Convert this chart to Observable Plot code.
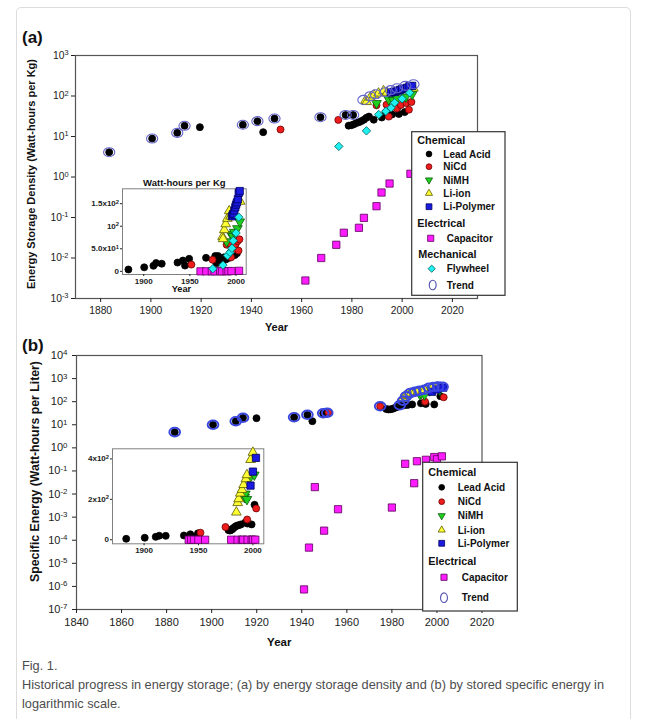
<!DOCTYPE html>
<html><head><meta charset="utf-8">
<script src="https://cdn.jsdelivr.net/npm/d3@7"></script>
<script src="https://cdn.jsdelivr.net/npm/@observablehq/plot@0.6"></script>
<style>
html,body{margin:0;padding:0;background:#fff;}
#page{position:relative;width:647px;height:719px;overflow:hidden;font-family:'Liberation Sans',Arial,Helvetica,sans-serif;}
#frameBox{position:absolute;left:16px;top:7px;width:615px;height:760px;border:1px solid #dcdcdc;border-radius:5px;box-sizing:border-box;}
#cap{position:absolute;left:22px;top:656px;color:#4d4d4d;font-size:13px;line-height:19px;white-space:nowrap;}
#cap span{display:inline-block;transform-origin:0 50%;}
</style></head>
<body><div id="page"><div id="frameBox"></div>
<div id="cap"><div><span>Fig. 1.</span></div><div><span id="capLine">Historical progress in energy storage; (a) by energy storage density and (b) by stored specific energy in</span></div><div><span>logarithmic scale.</span></div></div>
</div>
<script>
// ---------------- DATA: panel (a) Wh per kg ----------------
const leadAcidA = [[1883.4,4.1],[1900.5,8.9],[1910.5,12.3],[1913.4,18.4],[1919.5,17],[1936.6,19.5],[1942.4,23.9],[1944.7,12.8],[1949.2,27.8],[1967.5,30],[1977.5,34],[1980.5,34],[1978.7,18.5],[1979.8,19],[1980.8,20],[1981.8,21.5],[1982.8,22.5],[1983.8,24],[1984.8,26],[1985.8,29],[1986.8,31],[1988.7,26],[1991.9,29.5],[1993.4,39],[1994.7,44],[1996,35],[1998,51],[1998.7,36],[2001,40]];
const nicdA = [[1951.6,14.9],[1974.6,25.7],[1989.8,59],[1993.8,61],[1994.7,31],[1997.9,49],[1999.5,60],[2001.7,67],[2002.7,46],[2003.7,71]];
const nimhA = [[1989.8,66],[1994.7,82],[1996.5,78],[1998,87],[2001.5,95],[2004,110]];
const liIonA = [[1985.4,77],[1985.9,72],[1987.3,92],[1988.8,105],[1990.6,117],[1992.6,134],[1994,122],[2004.5,155]];
const liPolyA = [[1995.5,122],[1996.5,126],[1997.3,128],[1998.2,135],[1999.2,142],[2000,148],[2001,153],[2002,160],[2002.9,174],[2004,178]];
const capacitorA = [[1961.5,0.00278],[1967.8,0.01],[1973.8,0.0212],[1976.8,0.042],[1982.8,0.0557],[1984.8,0.098],[1989.8,0.19],[1991.8,0.414],[1995,0.69],[2003.3,1.2]];
const flywheelA = [[1974.8,5.7],[1985.8,13.8],[1990.7,35],[1993.5,42],[1995.6,51],[1997,68],[2000,85],[2003,120]];
const trendA = [[1883.4,4.1],[1900.5,8.9],[1910.5,12.3],[1913.4,18.4],[1936.6,19.5],[1942.4,23.9],[1949.2,27.8],[1967.5,30],[1977.5,34],[1980.5,34],[1984.6,80],[1987.3,99],[1989.5,110],[1993.4,124],[1995.5,140],[1998,155],[2001.3,178],[2004.5,195]];

// ---------------- DATA: panel (b) Wh per liter ----------------
const leadAcidB = [[1883.6,4.8],[1900.6,10],[1910.7,14.3],[1913.9,20],[1919.9,19.3],[1936.6,21.3],[1942.5,27],[1944.7,14.3],[1949.5,31.6],[1977.5,48],[1978.5,46],[1979.5,47],[1980.5,50],[1981.5,55],[1982.5,60],[1984,66],[1985.5,70],[1987,72],[1989,76],[1992.9,85],[1995,80],[1998.8,76],[2001.5,173]];
const nicdB = [[1951.8,35],[1974.8,63],[1994.7,100],[2003,155]];
const nimhB = [[1992.4,210],[1993,227],[1994.5,200],[1996.7,301],[2001.3,321]];
const liIonB = [[1984.8,136],[1986,183],[1986.9,202],[1988.4,230],[1990,248],[1991.5,272],[1993.6,301],[1994.5,321],[1997.9,396],[2000,432]];
const liPolyB = [[1997.8,268],[2000,337],[2002.8,405]];
const capacitorB = [[1941,7.4e-7],[1943.2,4.8e-5],[1945.8,0.02],[1949.9,2.6e-4],[1956.1,2.2e-3],[1980,2.6e-3],[1985.9,0.204],[1989.9,0.0295],[1991.1,0.264],[1995.1,0.304],[1998.8,0.40],[2000,0.32],[2002.2,0.43]];
const trendB = [[1883.6,4.8],[1900.6,10],[1910.7,14.3],[1913.9,20],[1936.6,21.3],[1942.5,27],[1949.5,31.6],[1951.3,33],[1974.8,63],[1983.5,70],[1985,110],[1986.3,170],[1988.3,240],[1990.3,270],[1992.3,300],[1994.5,330],[1996.5,400],[1998.5,430],[2000.5,450],[2002.5,440]];

// ---------------- TICKS & LABELS ----------------
const xTicksA = [1880,1900,1920,1940,1960,1980,2000,2020];
const yTicksA = [1e-3,1e-2,1e-1,1e0,1e1,1e2,1e3];
const xTicksB = [1840,1860,1880,1900,1920,1940,1960,1980,2000,2020];
const yTicksB = [1e-7,1e-6,1e-5,1e-4,1e-3,1e-2,1e-1,1e0,1e1,1e2,1e3,1e4];
const insetXTicks = [1900,1950,2000];
const insetYTicksA = [0,50,100,150];
const insetYLabelsA = ["0","5.0x10^1","10^2","1.5x10^2"];
const insetYTicksB = [0,200,400];
const insetYLabelsB = ["0","2x10^2","4x10^2"];
const titleA = "Energy Storage Density (Watt-hours per Kg)";
const titleB = "Specific Energy (Watt-hours per Liter)";
const insetTitleA = "Watt-hours per Kg";
const legendA = [["h","Chemical"],["lead","Lead Acid"],["nicd","NiCd"],["nimh","NiMH"],["liion","Li-ion"],["lipo","Li-Polymer"],["h","Electrical"],["cap","Capacitor"],["h","Mechanical"],["fly","Flywheel"],["trend","Trend"]];
const legendB = [["h","Chemical"],["lead","Lead Acid"],["nicd","NiCd"],["nimh","NiMH"],["liion","Li-ion"],["lipo","Li-Polymer"],["h","Electrical"],["cap","Capacitor"],["trend","Trend"]];

// ---------------- STYLES ----------------
const FONT = "'Liberation Sans', Arial, Helvetica, sans-serif";
const triDown = {draw(ctx, size){ const y = Math.sqrt(size/(Math.sqrt(3)*3)); ctx.moveTo(0, 2*y); ctx.lineTo(Math.sqrt(3)*y, -y); ctx.lineTo(-Math.sqrt(3)*y, -y); ctx.closePath(); }};
function ellipseSym(ax, ay){ return {draw(ctx,size){ const r=Math.sqrt(size/Math.PI), rx=r*ax, ry=r*ay, k=0.5523; ctx.moveTo(rx,0); ctx.bezierCurveTo(rx,k*ry,k*rx,ry,0,ry); ctx.bezierCurveTo(-k*rx,ry,-rx,k*ry,-rx,0); ctx.bezierCurveTo(-rx,-k*ry,-k*rx,-ry,0,-ry); ctx.bezierCurveTo(k*rx,-ry,rx,-k*ry,rx,0); ctx.closePath(); }}; }
const ST = {
  lead:  {symbol:"circle",  fill:"#000000", stroke:"#000000", r:3.5},
  nicd:  {symbol:"circle",  fill:"#ee1c1c", stroke:"#6a0000", r:3.5},
  nimh:  {symbol:triDown,   fill:"#1fd01f", stroke:"#0a5a0a", r:3.6},
  liion: {symbol:"triangle",fill:"#ffff33", stroke:"#5a5a00", r:3.6},
  lipo:  {symbol:"square",  fill:"#1a1ae0", stroke:"#000060", r:4.1},
  cap:   {symbol:"square",  fill:"#ff1cff", stroke:"#5a005a", r:4.1},
  fly:   {symbol:"diamond2",fill:"#1ff0f0", stroke:"#006060", r:3.8},
};
const trendStyleA = {symbol: ellipseSym(1.12,0.9), fill:"none", stroke:"#6464cc", strokeWidth:1.1, r:5};
const trendStyleB = {symbol: ellipseSym(1.12,0.9), fill:"none", stroke:"#3a46e0", strokeWidth:1.9, r:4.8};

function dots(data, st){ return Plot.dot(data, {x: d => d[0], y: d => d[1], symbol: st.symbol, fill: st.fill, stroke: st.stroke, strokeWidth: st.strokeWidth ?? 0.8, r: st.r}); }
const sup10 = d => "10^" + Math.round(Math.log10(d));
const SVGNS = "http://www.w3.org/2000/svg";
function supify(svg){
  svg.querySelectorAll("text").forEach(t => {
    const s = t.textContent;
    if (!s.includes("^")) return;
    const [base, exp] = s.split("^");
    while (t.firstChild) t.removeChild(t.firstChild);
    const a = document.createElementNS(SVGNS,"tspan"); a.textContent = base;
    const b = document.createElementNS(SVGNS,"tspan"); b.textContent = exp; b.setAttribute("dy","-0.45em"); b.setAttribute("font-size","72%");
    t.append(a,b);
  });
}
const page = document.getElementById("page");
function place(svg, left, top){ svg.style.position="absolute"; svg.style.left=left+"px"; svg.style.top=top+"px"; supify(svg); page.appendChild(svg); }
const baseStyle = {background:"transparent", fontFamily: FONT, color:"#222", overflow:"visible"};

// ---------------- PANEL (a) ----------------
const plotA = Plot.plot({
  width: 647, height: 340, marginLeft: 75, marginRight: 170, marginTop: 55, marginBottom: 42,
  x: {domain:[1870,2030]}, y: {type:"log", domain:[1e-3,1e3]},
  style: baseStyle,
  marks: [
    Plot.frame({stroke:"#555", strokeWidth:1.2}),
    Plot.axisX({ticks:xTicksA, tickFormat:d=>String(d), tickSize:4, tickPadding:4, fontSize:10.3, label:null}),
    Plot.axisY({ticks:yTicksA, tickFormat:sup10, tickSize:4, tickPadding:3, fontSize:10.3, label:null}),
    dots(leadAcidA, ST.lead), dots(nicdA, ST.nicd), dots(nimhA, ST.nimh), dots(liIonA, ST.liion), dots(liPolyA, ST.lipo), dots(capacitorA, ST.cap), dots(flywheelA, ST.fly),
    dots(trendA, trendStyleA),
    Plot.text(["Year"], {text:d=>d, frameAnchor:"bottom", dy:32, fontWeight:"bold", fontSize:11, fill:"#111"})
  ]
});
place(plotA, 0, 0);

const insetA = Plot.plot({
  width: 175, height: 132, marginLeft: 42, marginRight: 9.3, marginTop: 20.3, marginBottom: 26,
  x: {domain:[1877,2011]}, y: {domain:[-7,183]},
  style: {...baseStyle, fontWeight:"bold"},
  marks: [
    Plot.frame({fill:"white", stroke:"#808080"}),
    Plot.axisX({ticks:insetXTicks, tickFormat:d=>String(d), tickSize:2, tickPadding:1.5, fontSize:8, label:null}),
    Plot.axisY({ticks:insetYTicksA, tickFormat:d=>insetYLabelsA[insetYTicksA.indexOf(d)], tickSize:2, tickPadding:1.5, fontSize:8, label:null}),
    dots(leadAcidA, ST.lead), dots(nicdA, ST.nicd), dots(nimhA, ST.nimh), dots(liIonA, ST.liion), dots(liPolyA, ST.lipo), dots(capacitorA, ST.cap), dots(flywheelA, ST.fly),
    Plot.text([insetTitleA], {text:d=>d, frameAnchor:"top", dy:-10, fontSize:9.5, fill:"#111"}),
    Plot.text(["Year"], {text:d=>d, frameAnchor:"bottom", dy:17.7, dx:-3, fontSize:9.2, fill:"#111"})
  ]
});
place(insetA, 80, 168);

// ---------------- PANEL (b) ----------------
const plotB = Plot.plot({
  width: 647, height: 315, marginLeft: 76, marginRight: 165.5, marginTop: 15, marginBottom: 46,
  x: {domain:[1840,2020]}, y: {type:"log", domain:[1e-7,1e4]},
  style: baseStyle,
  marks: [
    Plot.frame({stroke:"#555", strokeWidth:1.2}),
    Plot.axisX({ticks:xTicksB, tickFormat:d=>String(d), tickSize:4, tickPadding:5, fontSize:11, label:null}),
    Plot.axisY({ticks:yTicksB, tickFormat:sup10, tickSize:4, tickPadding:5, fontSize:11, label:null}),
    dots(leadAcidB, ST.lead), dots(nicdB, ST.nicd), dots(nimhB, ST.nimh), dots(liIonB, ST.liion), dots(liPolyB, ST.lipo), dots(capacitorB, ST.cap),
    dots(trendB, trendStyleB),
    Plot.text(["Year"], {text:d=>d, frameAnchor:"bottom", dy:36, fontWeight:"bold", fontSize:11.5, fill:"#111"})
  ]
});
place(plotB, 0, 340);

const insetB = Plot.plot({
  width: 210, height: 120, marginLeft: 52, marginRight: 6.7, marginTop: 8.3, marginBottom: 16.7,
  x: {domain:[1871,2010]}, y: {domain:[-20,450]},
  style: {...baseStyle, fontWeight:"bold"},
  marks: [
    Plot.frame({fill:"white", stroke:"#808080"}),
    Plot.axisX({ticks:insetXTicks, tickFormat:d=>String(d), tickSize:2, tickPadding:1.5, fontSize:8, label:null}),
    Plot.axisY({ticks:insetYTicksB, tickFormat:d=>insetYLabelsB[insetYTicksB.indexOf(d)], tickSize:2, tickPadding:1.5, fontSize:8, label:null}),
    dots(leadAcidB, ST.lead), dots(nicdB, ST.nicd), dots(nimhB, ST.nimh), dots(liIonB, ST.liion), dots(liPolyB, ST.lipo), dots(capacitorB, ST.cap)
  ]
});
place(insetB, 60, 440);

// ---------------- OVERLAY: panel letters, axis titles & legends ----------------
const ov = d3.create("svg").attr("width",647).attr("height",719)
  .style("position","absolute").style("left","0px").style("top","0px").style("font-family",FONT);
ov.append("text").attr("x",22).attr("y",37).attr("dy","0.35em").attr("font-size",17).attr("font-weight","bold").attr("fill","#111").text("(a)");
ov.append("text").attr("x",22).attr("y",345).attr("dy","0.35em").attr("font-size",17).attr("font-weight","bold").attr("fill","#111").text("(b)");
ov.append("text").attr("transform","translate(31,174) rotate(-90)").attr("text-anchor","middle").attr("dy","0.35em")
  .attr("font-size",11).attr("font-weight","bold").attr("fill","#111").text(titleA);
ov.append("text").attr("transform","translate(35,471.5) rotate(-90)").attr("text-anchor","middle").attr("dy","0.35em")
  .attr("font-size",12.3).attr("font-weight","bold").attr("fill","#111").text(titleB);

const legSym = {
  lead:{sym:d3.symbolCircle, size:26}, nicd:{sym:d3.symbolCircle, size:26}, nimh:{sym:triDown, size:22}, liion:{sym:d3.symbolTriangle, size:22},
  lipo:{sym:d3.symbolSquare, size:34}, cap:{sym:d3.symbolSquare, size:38}, fly:{sym:d3.symbolDiamond2, size:34}, trend:{sym:ellipseSym(0.72,1.0), size:72}
};
function drawLegend(box, entries, ys, cfg){
  const g = ov.append("g");
  g.append("rect").attr("x",box[0]).attr("y",box[1]).attr("width",box[2]).attr("height",box[3]).attr("fill","white").attr("stroke","#333").attr("stroke-width",1.2);
  entries.forEach(([k,label], i) => {
    const y = ys[i];
    if (k === "h") {
      g.append("text").attr("x", cfg.hx[label] ?? cfg.hx.def).attr("y", y).attr("dy","0.35em").attr("font-size",10.8).attr("font-weight","bold").attr("fill","#111").text(label);
    } else {
      const chem = ["lead","nicd","nimh","liion","lipo"].includes(k);
      const mx = chem ? cfg.mx1 : (cfg.mx2[k] ?? cfg.mx2.def);
      const tx = chem ? cfg.tx1 : cfg.tx2;
      const s = k === "trend" ? {fill:"none", stroke:"#5050b0"} : ST[k];
      g.append("path").attr("d", d3.symbol(legSym[k].sym, legSym[k].size)()).attr("transform",`translate(${mx},${y})`)
        .attr("fill", s.fill).attr("stroke", s.stroke).attr("stroke-width", k==="trend"?1.1:0.8);
      g.append("text").attr("x", tx).attr("y", y).attr("dy","0.35em").attr("font-size",10).attr("font-weight","bold").attr("fill","#111").text(label);
    }
  });
}
drawLegend([411.7,131.7,93.3,163.6], legendA, [140.7,154,166.7,180,193.3,206.7,223.3,238.3,254.3,268.7,285],
  {hx:{def:417.3, Mechanical:418.3}, mx1:429, tx1:443.3, mx2:{def:430.7, fly:431.7, trend:432.7}, tx2:446.7});
drawLegend([422.7,462.3,94.6,148.7], legendB, [472,487.3,501.7,515.7,530,543.3,561,577.3,597.7],
  {hx:{def:428.3}, mx1:441.7, tx1:457.7, mx2:{def:444}, tx2:461.7});
page.appendChild(ov.node());

// caption fit
const capLine = document.getElementById("capLine");
const w = capLine.getBoundingClientRect().width;
const k = 582 / w;
document.querySelectorAll("#cap span").forEach(s => s.style.transform = `scaleX(${k})`);
</script>
</body></html>
